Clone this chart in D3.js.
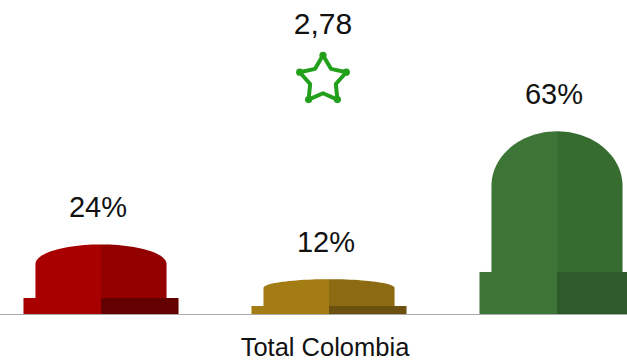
<!DOCTYPE html>
<html>
<head>
<meta charset="utf-8">
<title>Total Colombia</title>
<style>
  body { margin: 0; background: #fff; }
  svg { display: block; font-family: "Liberation Sans", Arial, sans-serif; }
</style>
</head>
<body>
<div id="chart"></div>
<script src="https://cdn.jsdelivr.net/npm/d3@7"></script>
<script>
// data
var categories = ["Total Colombia"];
var seriesKeys = ["bajo", "medio", "alto"];
var seriesValues = [24, 12, 63];
var starValues = [2.78];

// colours: body left, body right, base right
var lightColors = ["#a80000", "#a37c14", "#3c7535"];
var darkColors  = ["#930000", "#8c6b12", "#366c30"];
var baseDark    = ["#650000", "#6b5010", "#2f5b2a"];

var width = 627, height = 361, baseline = 314;

var nl = d3.formatLocale({decimal: ",", thousands: ".", grouping: [3], currency: ["$", ""]});
var fmt = nl.format(".2f");

var svg = d3.select("#chart").append("svg")
    .attr("width", width)
    .attr("height", height);

var xCat = d3.scaleBand().domain(categories).range([0, 648]);
var x = d3.scaleBand().domain(seriesKeys).range([-13, 671]);
var y = d3.scaleLinear().domain([0, 100]).range([baseline, 24]);
var y2 = d3.scaleLinear().domain([0, 4]).range([baseline, -23]);

var data = seriesKeys.map(function(k, i) {
  return {key: k, value: seriesValues[i], i: i};
});

// one "bell" per series: rounded body + wider foot, split into light/dark halves
var g = svg.selectAll(".bell").data(data).enter()
  .append("g").attr("class", "bell");

function bodyPath(d, side) {
  var cx = x(d.key) + x.bandwidth() / 2;
  var rx = x.bandwidth() * 0.575 / 2;
  var top = y(d.value);
  var H = baseline - top;
  var ry = Math.min(rx, H * 0.31 - 2);
  var bottom = baseline - 1;
  var sgn = side === "left" ? -1 : 1;
  var p = d3.path();
  p.moveTo(cx, bottom);
  p.lineTo(cx + sgn * rx, bottom);
  p.lineTo(cx + sgn * rx, top + ry);
  // quarter ellipse up to the top centre
  for (var t = 0; t <= 24; t++) {
    var a = t / 24 * Math.PI / 2;
    p.lineTo(cx + sgn * rx * Math.cos(a), top + ry - ry * Math.sin(a));
  }
  p.closePath();
  return p.toString();
}

g.append("path")
  .attr("d", function(d) { return bodyPath(d, "left"); })
  .attr("fill", function(d) { return lightColors[d.i]; });
g.append("path")
  .attr("d", function(d) { return bodyPath(d, "right"); })
  .attr("fill", function(d) { return darkColors[d.i]; });

// foot
var footW = x.bandwidth() * 0.68;
g.append("rect")
  .attr("x", function(d) { return x(d.key) + x.bandwidth() / 2 - footW / 2; })
  .attr("y", function(d) { return y(d.value * 0.23); })
  .attr("width", footW / 2)
  .attr("height", function(d) { return baseline - y(d.value * 0.23); })
  .attr("fill", function(d) { return lightColors[d.i]; });
g.append("rect")
  .attr("x", function(d) { return x(d.key) + x.bandwidth() / 2; })
  .attr("y", function(d) { return y(d.value * 0.23); })
  .attr("width", footW / 2)
  .attr("height", function(d) { return baseline - y(d.value * 0.23); })
  .attr("fill", function(d) { return baseDark[d.i]; });

// value labels
g.append("text")
  .attr("x", function(d) { return x(d.key) + x.bandwidth() / 2 - 3; })
  .attr("y", function(d) { return y(d.value) - 27; })
  .attr("text-anchor", "middle")
  .style("font-size", "29px")
  .style("fill", "#111")
  .text(function(d) { return d.value + "%"; });

// baseline
svg.append("line")
  .attr("x1", 0).attr("x2", width)
  .attr("y1", baseline + 0.5).attr("y2", baseline + 0.5)
  .attr("stroke", "#aaaaaa")
  .attr("stroke-width", 1.2);

// category label
svg.selectAll(".cat").data(categories).enter()
  .append("text")
  .attr("class", "cat")
  .attr("x", function(d) { return xCat(d) + xCat.bandwidth() / 2 + 1; })
  .attr("y", 356)
  .attr("text-anchor", "middle")
  .style("font-size", "25.5px")
  .style("fill", "#111")
  .text(function(d) { return d; });

// star marker
var R = 24.5, r = 13.5;
var starPts = d3.range(10).map(function(k) {
  var a = -Math.PI / 2 + k * Math.PI / 5;
  var rad = k % 2 === 0 ? R : r;
  return [rad * Math.cos(a), rad * Math.sin(a)];
});

var star = svg.selectAll(".star").data(starValues).enter()
  .append("g")
  .attr("class", "star")
  .attr("transform", function(d, i) {
    return "translate(" + (xCat(categories[i]) + xCat.bandwidth() / 2 - 1) + "," + y2(d) + ")";
  });

star.append("path")
  .attr("d", d3.line()(starPts) + "Z")
  .attr("fill", "none")
  .attr("stroke", "#22a01b")
  .attr("stroke-width", 4)
  .attr("stroke-linejoin", "round");

star.selectAll("circle").data(starPts.filter(function(p, k) { return k % 2 === 0; }))
  .enter().append("circle")
  .attr("cx", function(p) { return p[0]; })
  .attr("cy", function(p) { return p[1]; })
  .attr("r", 3.6)
  .attr("fill", "#22a01b");

star.append("text")
  .attr("x", 0)
  .attr("y", -45.5)
  .attr("text-anchor", "middle")
  .style("font-size", "30px")
  .style("fill", "#111")
  .text(function(d) { return fmt(d); });
</script>
</body>
</html>
